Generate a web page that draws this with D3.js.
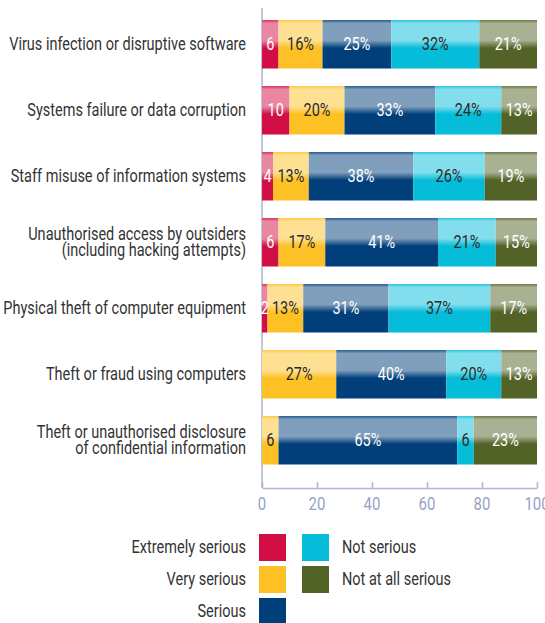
<html>

<head>
  <title>IT security incidents by seriousness</title>
  <script src="https://d3js.org/d3.v7.min.js"></script>
  <style>
    body {
      margin: 0;
      background: #fff;
    }

    text {
      font-family: Roboto, "Liberation Sans", sans-serif;
    }

    .axis line,
    .axis path {
      stroke: #b3b9d4;
      stroke-width: 1.6;
    }
  </style>
</head>

<body>
  <svg id="chart" width="545" height="623"></svg>

  <script>

    // ---- data
    const categories = [
      "Virus infection or disruptive software",
      "Systems failure or data corruption",
      "Staff misuse of information systems",
      "Unauthorised access by outsiders\n(including hacking attempts)",
      "Physical theft of computer equipment",
      "Theft or fraud using computers",
      "Theft or unauthorised disclosure\nof confidential information"
    ];

    const seriesNames = ["Extremely serious", "Very serious", "Serious", "Not serious", "Not at all serious"];

    const extremelySerious = [6, 10, 4, 6, 2, 0, 0];
    const verySerious = [16, 20, 13, 17, 13, 27, 6];
    const serious = [25, 33, 38, 41, 31, 40, 65];
    const notSerious = [32, 24, 26, 21, 37, 20, 6];
    const notAtAllSerious = [21, 13, 19, 15, 17, 13, 23];

    const xTicks = [0, 20, 40, 60, 80, 100];

    const seriesColors = ["#d20f45", "#fdc125", "#003f7a", "#05bcd9", "#536226"];
    const labelColors = ["#fff", "#2a2a2a", "#fff", "#2a2a2a", "#fff"];

    // build rows for the stack
    const table = categories.map((c, i) => ({
      category: c,
      "Extremely serious": extremelySerious[i],
      "Very serious": verySerious[i],
      "Serious": serious[i],
      "Not serious": notSerious[i],
      "Not at all serious": notAtAllSerious[i]
    }));

    const svg = d3.select("svg#chart");

    // ---- scales
    const xScale = d3.scaleLinear().domain([0, 100]).range([262, 537]);
    const yScale = d3.scaleBand().domain(categories)
      .range([6.8, 477.7])
      .paddingInner(0.265)
      .paddingOuter(0.2);
    const colorScale = d3.scaleOrdinal().domain(seriesNames).range(seriesColors);

    const axisY = 488;

    // the original uses a condensed face, none is installed here,
    // so measure one label and squeeze all text horizontally by the same amount
    const probe = svg.append("text").attr("font-size", 17.5).text(categories[0]);
    const squeeze = Math.min(1, 237 / probe.node().getComputedTextLength());
    probe.remove();

    // helper: condensed text at x,y
    function cText(parent, x, y, str, size, anchor, color) {
      return parent.append("text")
        .attr("transform", `translate(${x},${y}) scale(${squeeze},1)`)
        .attr("text-anchor", anchor)
        .attr("font-size", size)
        .attr("fill", color)
        .text(str);
    }

    // ---- gradients: glossy band with a pale upper half
    const defs = svg.append("defs");
    seriesNames.forEach((s, i) => {
      const base = seriesColors[i];
      const light = d3.interpolateRgb(base, "#fff")(0.5);
      const g = defs.append("linearGradient")
        .attr("id", "grad" + i)
        .attr("x1", 0).attr("y1", 0).attr("x2", 0).attr("y2", 1);
      [[0, d3.interpolateRgb(base, "#fff")(0.15)], [0.07, light], [0.42, light], [0.58, base], [1, base]]
        .forEach(st => g.append("stop").attr("offset", st[0]).attr("stop-color", st[1]));
    });

    // ---- axis (labels drawn separately so they can be condensed)
    const bottomAxis = d3.axisBottom(xScale)
      .tickValues(xTicks)
      .tickSize(-6)
      .tickSizeOuter(0)
      .tickFormat("");
    svg.append("g")
      .attr("class", "x axis")
      .attr("transform", `translate(0, ${axisY})`)
      .call(bottomAxis);

    const tickLabels = svg.append("g").attr("id", "tickLabels");
    xTicks.forEach(t => cText(tickLabels, xScale(t), axisY + 22, String(t), 18, "middle", "#98a2c5"));

    // vertical axis line
    svg.append("g").attr("class", "axis")
      .append("line")
      .attr("x1", xScale(0)).attr("x2", xScale(0))
      .attr("y1", 8).attr("y2", axisY);

    // ---- stacked bars
    const stacked = d3.stack().keys(seriesNames)(table);

    const bars = svg.append("g").attr("id", "bars");
    stacked.forEach((layer, si) => {
      layer.forEach((seg, ci) => {
        const v = seg[1] - seg[0];
        if (v <= 0) return;
        bars.append("rect")
          .attr("x", xScale(seg[0]))
          .attr("y", yScale(categories[ci]))
          .attr("width", xScale(seg[1]) - xScale(seg[0]))
          .attr("height", yScale.bandwidth())
          .attr("fill", `url(#grad${si})`);
      });
    });

    // labels on top of the bars
    stacked.forEach((layer, si) => {
      layer.forEach((seg, ci) => {
        const v = seg[1] - seg[0];
        if (v <= 0) return;
        const label = (si === 0 || v < 10) ? String(v) : v + "%";
        cText(bars, (xScale(seg[0]) + xScale(seg[1])) / 2,
          yScale(categories[ci]) + yScale.bandwidth() / 2 + 6,
          label, 17.5, "middle", labelColors[si]);
      });
    });

    // ---- category labels
    const catLabels = svg.append("g").attr("id", "categories");
    categories.forEach(c => {
      const lines = c.split("\n");
      const mid = yScale(c) + yScale.bandwidth() / 2;
      if (lines.length === 1) {
        cText(catLabels, 246, mid + 6, c, 17.5, "end", "#333");
      } else {
        lines.forEach((l, j) => cText(catLabels, 246, mid - 2 + j * 16, l, 17.5, "end", "#333"));
      }
    });

    // ---- legend
    const legend = svg.append("g").attr("id", "legend");
    seriesNames.forEach((s, i) => {
      const col = i < 3 ? 0 : 1;
      const row = i < 3 ? i : i - 3;
      const top = 534 + row * 32;
      legend.append("rect")
        .attr("x", col === 0 ? 259 : 302)
        .attr("y", top)
        .attr("width", 27)
        .attr("height", 27)
        .attr("fill", colorScale(s));
      cText(legend, col === 0 ? 246 : 342, top + 19, s, 17.5, col === 0 ? "end" : "start", "#333");
    });

  </script>
</body>

</html>
